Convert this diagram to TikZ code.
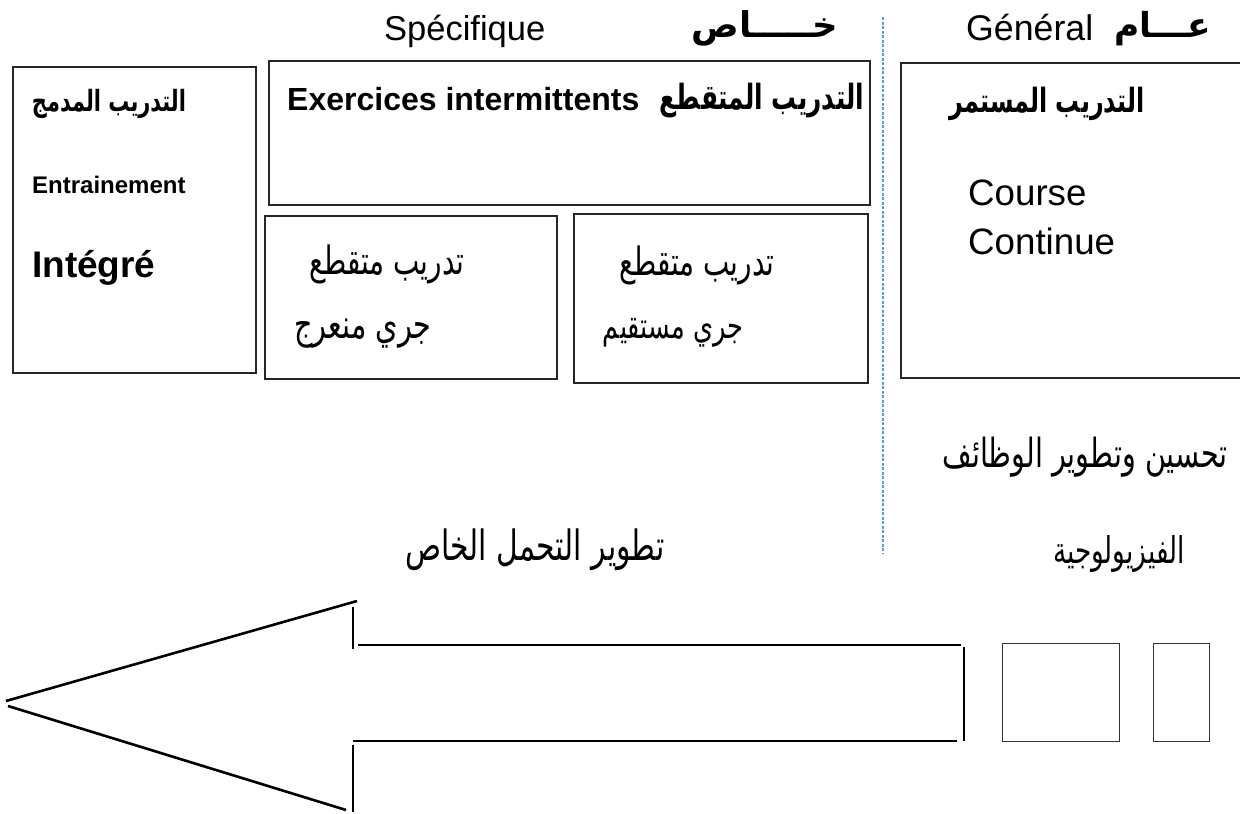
\documentclass[tikz,border=0pt]{standalone}
\usepackage{fontspec}
\usepackage{graphicx}
\setmainfont{Liberation Sans}
\newfontfamily\arabicfont[Script=Arabic]{DejaVu Sans}
\TeXXeTstate=1
% Arabic text scaled to a given width (in pt) and stretched upright, regular and bold
\newcommand{\arfit}[2]{\scalebox{1}[1.4]{\resizebox{#1pt}{!}{\arabicfont #2}}}
\newcommand{\arfitb}[2]{\scalebox{1}[1.4]{\resizebox{#1pt}{!}{\arabicfont\bfseries #2}}}
% headings with kashida: width-fitted only
\newcommand{\arhead}[2]{\resizebox{#1pt}{!}{\arabicfont\bfseries #2}}
\newcommand{\fsz}[1]{\fontsize{#1}{#1}\selectfont}
\definecolor{guide}{RGB}{91,155,213}
\begin{document}
\begin{tikzpicture}[x=1pt,y=-1pt,
  box/.style={draw=black!85, line width=1.6pt, inner sep=0pt, anchor=north west},
  lbl/.style={inner sep=0pt, anchor=base west},
  artxt/.style={inner sep=0pt, anchor=base},
  outline/.style={line width=2.6pt, black},
  smallbox/.style={draw=black!80, line width=1.4pt, inner sep=0pt, anchor=north west}]
\useasboundingbox (0,0) rectangle (1240,814);

% headers
\node[lbl] (hspec) at (384,40) {\fsz{34.5}Spécifique};
\node[artxt] (hkhas) at (765,37) {\arhead{147}{\beginR خـــــاص\endR}};
\node[lbl] (hgen) at (966,40) {\fsz{35.7}Général};
\node[artxt] (haam) at (1163,37) {\arhead{97}{\beginR عـــام\endR}};

% separator between specific and general
\coordinate (sepT) at (883,17);
\coordinate (sepB) at (883,553);
\draw[guide, line width=1.1pt, dash pattern=on 3pt off 1.5pt] (sepT) -- (sepB);

% boxes
\node[box, minimum width=243pt, minimum height=306pt] (integ) at (12,66) {};
\node[box, minimum width=601pt, minimum height=144pt] (interm) at (268,60) {};
\node[box, minimum width=292pt, minimum height=163pt] (zig) at (264,215) {};
\node[box, minimum width=294pt, minimum height=169pt] (straight) at (573,213) {};
\node[box, minimum width=360pt, minimum height=315pt] (cont) at (900,62) {};

% integrated training
\node[artxt] (tInteg) at (109,111) {\arfitb{154}{\beginR التدريب المدمج\endR}};
\node[lbl] (tEntr) at (32,193) {\fsz{24}\bfseries Entrainement};
\node[lbl] (tIntegre) at (32,277) {\fsz{37}\bfseries Intégré};

% intermittent training
\node[lbl] (tExer) at (287,110) {\fsz{32}\bfseries Exercices intermittents};
\node[artxt] (tInterm) at (762,109) {\arfitb{204}{\beginR التدريب المتقطع\endR}};

\node[artxt] (tZig1) at (387,274) {\arfit{155}{\beginR تدريب متقطع\endR}};
\node[artxt] (tZig2) at (363,338) {\arfit{137}{\beginR جري منعرج\endR}};
\node[artxt] (tStr1) at (697,275) {\arfit{155}{\beginR تدريب متقطع\endR}};
\node[artxt] (tStr2) at (673,338) {\arfit{140}{\beginR جري مستقيم\endR}};

% continuous training
\node[artxt] (tCont) at (1047,112) {\arfitb{195}{\beginR التدريب المستمر\endR}};
\node[lbl] (tCourse) at (968,205) {\fsz{36.7}Course};
\node[lbl] (tContinue) at (968,254) {\fsz{36.7}Continue};

% goals
\node[artxt] (gPhys1) at (1085,467) {\arfit{285}{\beginR تحسين وتطوير الوظائف\endR}};
\node[artxt] (gPhys2) at (1119,563) {\arfit{132}{\beginR الفيزيولوجية\endR}};
\node[artxt] (gSpec) at (535,560) {\arfit{259}{\beginR تطوير التحمل الخاص\endR}};

% large arrow pointing left
\coordinate (tipU) at (6,701);
\coordinate (tipL) at (8,706);
\coordinate (barbU) at (357,601);
\coordinate (barbL) at (346,810);
\coordinate (tickUa) at (353,607);
\coordinate (tickUb) at (353,649);
\coordinate (shaftUa) at (358,645);
\coordinate (shaftUb) at (961,645);
\coordinate (endA) at (964,647);
\coordinate (endB) at (964,741);
\coordinate (shaftLa) at (353,741);
\coordinate (shaftLb) at (957,741);
\coordinate (tickLa) at (353,745);
\coordinate (tickLb) at (353,812);
\draw[outline] (tipU) -- (barbU);
\draw[outline] (tipL) -- (barbL);
\draw[outline] (tickUa) -- (tickUb);
\draw[outline] (shaftUa) -- (shaftUb);
\draw[outline] (endA) -- (endB);
\draw[outline] (shaftLa) -- (shaftLb);
\draw[outline] (tickLa) -- (tickLb);

% small boxes at the arrow tail
\node[smallbox, minimum width=117pt, minimum height=98pt] (tailA) at (1002,643) {};
\node[smallbox, minimum width=56pt, minimum height=98pt] (tailB) at (1153,643) {};
\end{tikzpicture}
\end{document}
